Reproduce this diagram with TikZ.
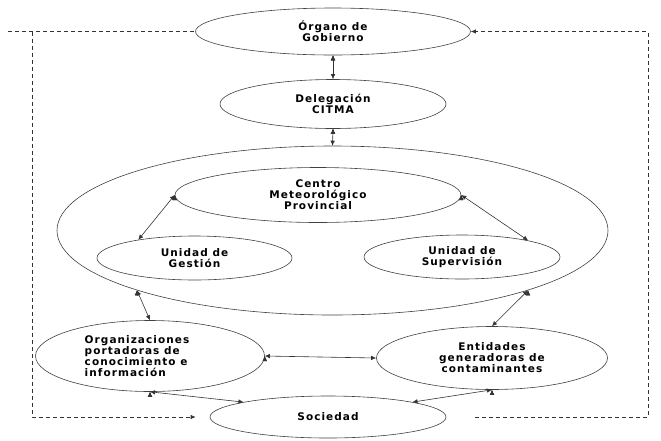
\documentclass[tikz,border=0pt]{standalone}
\usepackage{fontspec}
\newfontfamily\lblfont[LetterSpace=10]{DejaVu Sans Bold}
\usetikzlibrary{shapes}
\usetikzlibrary{arrows.meta}
\tikzset{
    ellip/.style = {ellipse, draw=black!75, line width=0.6pt, inner sep=0pt, align=center},
    edgeb/.style = {{Latex[length=5pt,width=4.5pt]}-{Latex[length=5pt,width=4.5pt]}, line width=0.6pt, black!80},
    edged/.style = {-{Latex[length=5pt,width=4.5pt]}, line width=0.7pt, black!80, dash pattern=on 4pt off 3pt}, % lazo
    every picture/.style={font issue=\lblfont\fontsize{10.5}{11}},
    font issue/.style={execute at begin picture={#1\selectfont}}
}

\begin{document}
\begin{tikzpicture}[x=1pt,y=-1pt]
\useasboundingbox (0,0) rectangle (661,440);
\node[ellip, minimum width=551pt, minimum height=169pt] at (332.5,230.5) (big) {};
\node[ellip, minimum width=275pt, minimum height=47pt] at (333,31.5) (og) {Órgano de\\Gobierno};
\node[ellip, minimum width=226pt, minimum height=49pt] at (333,104) (dc) {Delegación\\CITMA};
\node[ellip, minimum width=286pt, minimum height=55pt] at (318,195) (cmp) {Centro\\Meteorológico\\Provincial};
\node[ellip, minimum width=195pt, minimum height=44pt] at (194.5,258) (ug) {Unidad de\\Gestión};
\node[ellip, minimum width=196pt, minimum height=44pt] at (462,257) (us) {Unidad de\\Supervisión};
\node[ellip, align=left, minimum width=229pt, minimum height=71pt] at (150,356) (opc) {Organizaciones\hspace*{26pt}\\portadoras de\\conocimiento e\\información};
\node[ellip, minimum width=231pt, minimum height=63pt] at (492,358) (egc) {Entidades\\generadoras de\\contaminantes};
\node[ellip, minimum width=236pt, minimum height=42pt] at (328,417) (soc) {Sociedad};
\coordinate (nwx) at (8,31.5);
\coordinate (nw) at (32,31.5);
\coordinate (sw) at (32,417);
\coordinate (se) at (648,417);
\coordinate (ne) at (648,31.5);
%
\draw[edgeb] (og.south) edge (dc.north);
\draw[edgeb] (dc.south) edge (big.north);
\draw[edgeb] (cmp.west) edge (ug.162);
\draw[edgeb] (cmp.east) edge (us.14);
\draw[edgeb] (big.197) edge (opc.north);
\draw[edgeb] (big.343) edge (egc.north);
\draw[edgeb] (opc.east) edge (egc.west);
\draw[edgeb] (opc.south) edge (soc.170);
\draw[edgeb] (egc.south) edge (soc.10);
\draw[edged,-] (nwx) -- (og.west);
\draw[edged,shorten >=14pt] (nw) -- (sw) -- (soc.west);
\draw[edged,shorten <=29pt] (soc.east) -- (se) -- (ne) -- (og.east);
\end{tikzpicture}
\end{document}
